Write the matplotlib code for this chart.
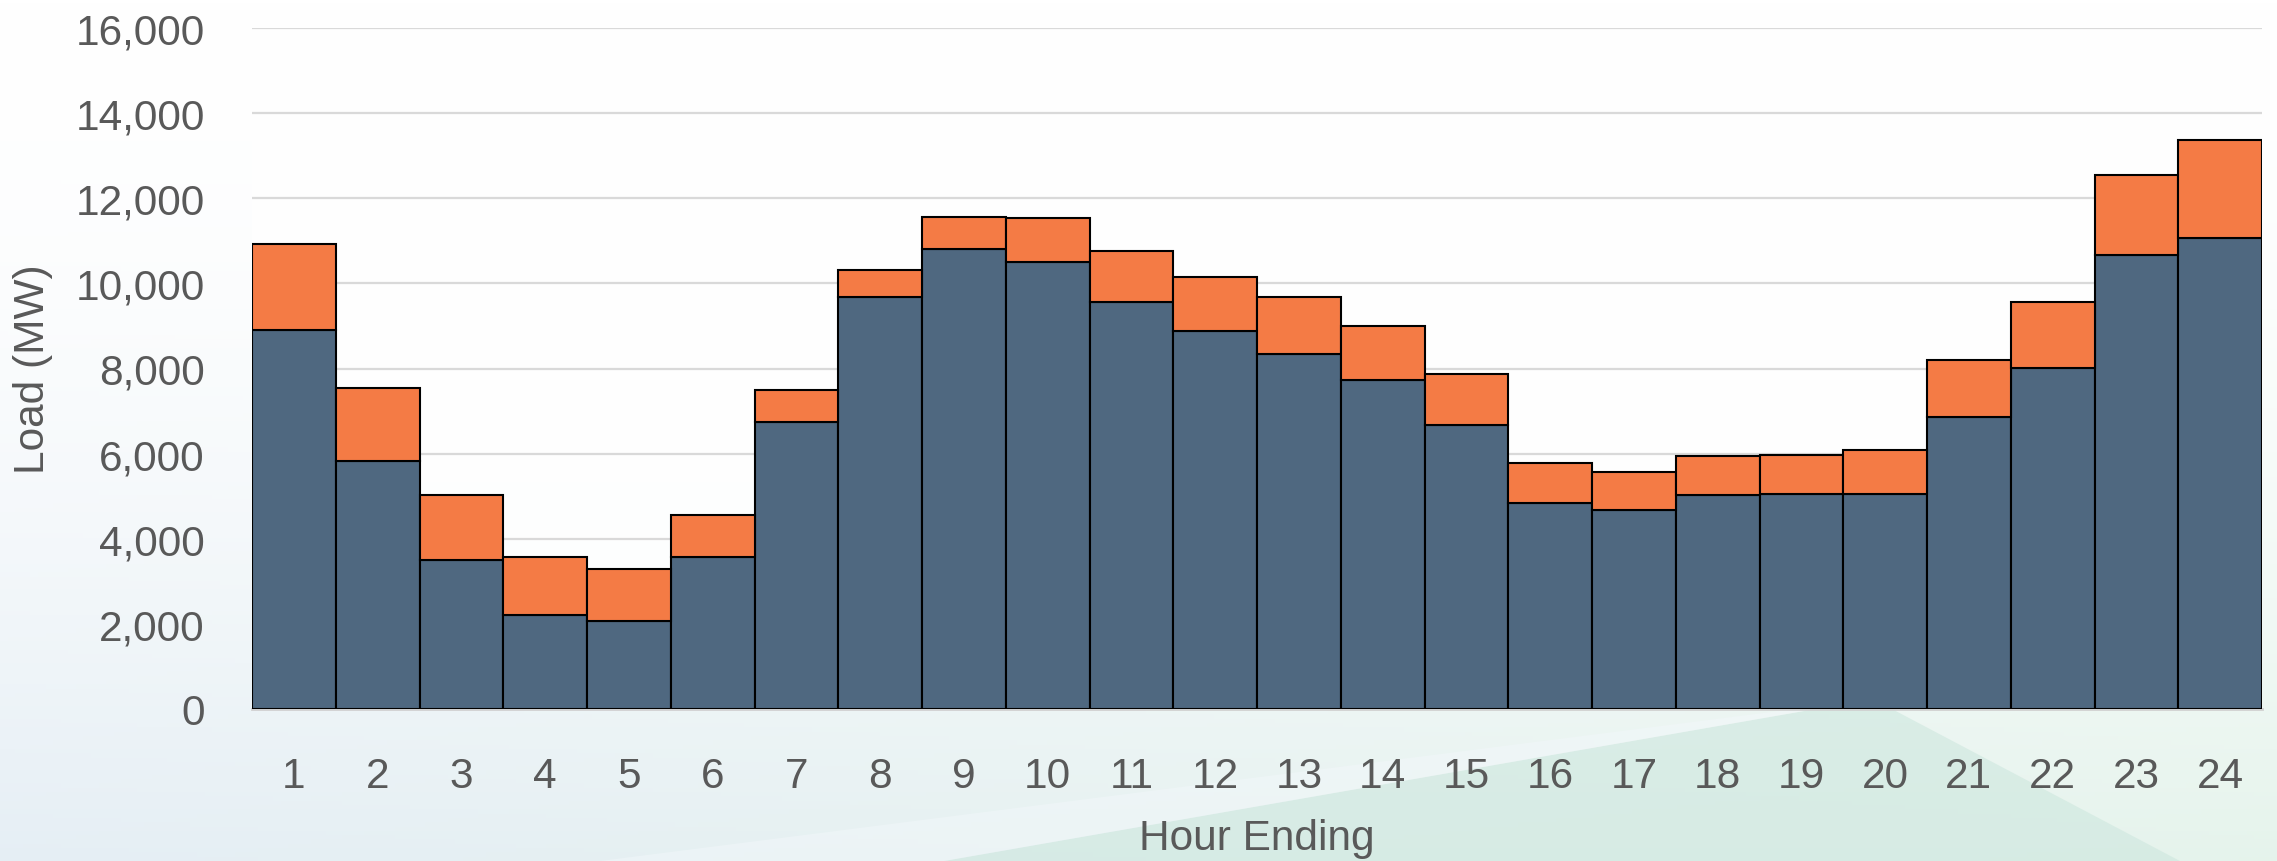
import numpy as np
import matplotlib.pyplot as plt
from matplotlib.patches import Polygon
from matplotlib.ticker import FuncFormatter

# data (MW)
hours = list(range(1, 25))
base_load = [8910, 5820, 3510, 2200, 2060, 3560, 6750, 9670, 10800, 10500, 9560, 8880,
             8350, 7740, 6670, 4850, 4670, 5030, 5040, 5060, 6860, 8020, 10670, 11070]
total_load = [10930, 7550, 5020, 3560, 3290, 4560, 7500, 10310, 11550, 11530, 10750, 10160,
              9670, 9010, 7860, 5780, 5570, 5950, 5970, 6090, 8190, 9570, 12550, 13370]
extra_load = [t - b for t, b in zip(total_load, base_load)]
y_ticks = [0, 2000, 4000, 6000, 8000, 10000, 12000, 14000, 16000]

text_col = '#595959'
plt.rcParams['font.family'] = ['Liberation Sans', 'DejaVu Sans']

fig = plt.figure(figsize=(22.77, 8.62), dpi=100)

# soft background: white at the top, pale blue / green towards the bottom
bg = fig.add_axes([0, 0, 1, 1])
bg.set_xlim(0, 1)
bg.set_ylim(0, 1)
bg.axis('off')
gy = np.linspace(0, 1, 200)[:, None]
gx = np.linspace(0, 1, 300)[None, :]
top = np.array([1.0, 1.0, 1.0])
bot_left = np.array([0.90, 0.935, 0.96])
bot_right = np.array([0.90, 0.955, 0.925])
w = np.clip(1 - gy, 0, 1) ** 1.8
mix = bot_left[None, None, :] * (1 - gx[..., None]) + bot_right[None, None, :] * gx[..., None]
img = top[None, None, :] * (1 - w[..., None]) + mix * w[..., None]
bg.imshow(img, extent=[0, 1, 0, 1], aspect='auto', origin='lower')
apex = [1873 / 2277, 1 - 700 / 862]
bg.add_patch(Polygon([[944 / 2277, 0], apex, [2180 / 2277, 0]],
                     closed=True, facecolor='#cde7de', edgecolor='none', alpha=0.6))
bg.add_patch(Polygon([[600 / 2277, 0], apex, [944 / 2277, 0]],
                     closed=True, facecolor='#f2f7fa', edgecolor='none', alpha=0.5))

ax = fig.add_axes([252 / 2277, 1 - 710 / 862, 2010 / 2277, 681 / 862])
ax.set_facecolor((1, 1, 1, 0.9))

ax.bar(hours, base_load, width=1.0, color='#4f6880', edgecolor='black', linewidth=1.5, zorder=3)
ax.bar(hours, extra_load, width=1.0, bottom=base_load, color='#f47b45',
       edgecolor='black', linewidth=1.5, zorder=3)

ax.set_xlim(0.5, 24.5)
ax.set_ylim(0, 16000)
ax.set_yticks(y_ticks)
ax.set_xticks(hours)
ax.yaxis.set_major_formatter(FuncFormatter(lambda v, p: f'{int(v):,}'))
ax.grid(axis='y', color='#d9d9d9', linewidth=1.6, zorder=0)
ax.set_axisbelow(True)

for s in ['top', 'right', 'left']:
    ax.spines[s].set_visible(False)
ax.spines['bottom'].set_color('#d0d0d0')
ax.spines['bottom'].set_linewidth(2.0)

ax.tick_params(axis='y', length=0, pad=34, labelsize=30.5, labelcolor=text_col)
ax.tick_params(axis='x', length=0, pad=34, labelsize=30.5, labelcolor=text_col)

ax.set_xlabel('Hour Ending', fontsize=30.5, color=text_col, va='center')
ax.xaxis.set_label_coords(0.5, -0.189)
ax.set_ylabel('Load (MW)', fontsize=30.5, color=text_col, va='center')
ax.yaxis.set_label_coords(-0.109, 0.5)

fig.savefig('out.png', dpi=100)
